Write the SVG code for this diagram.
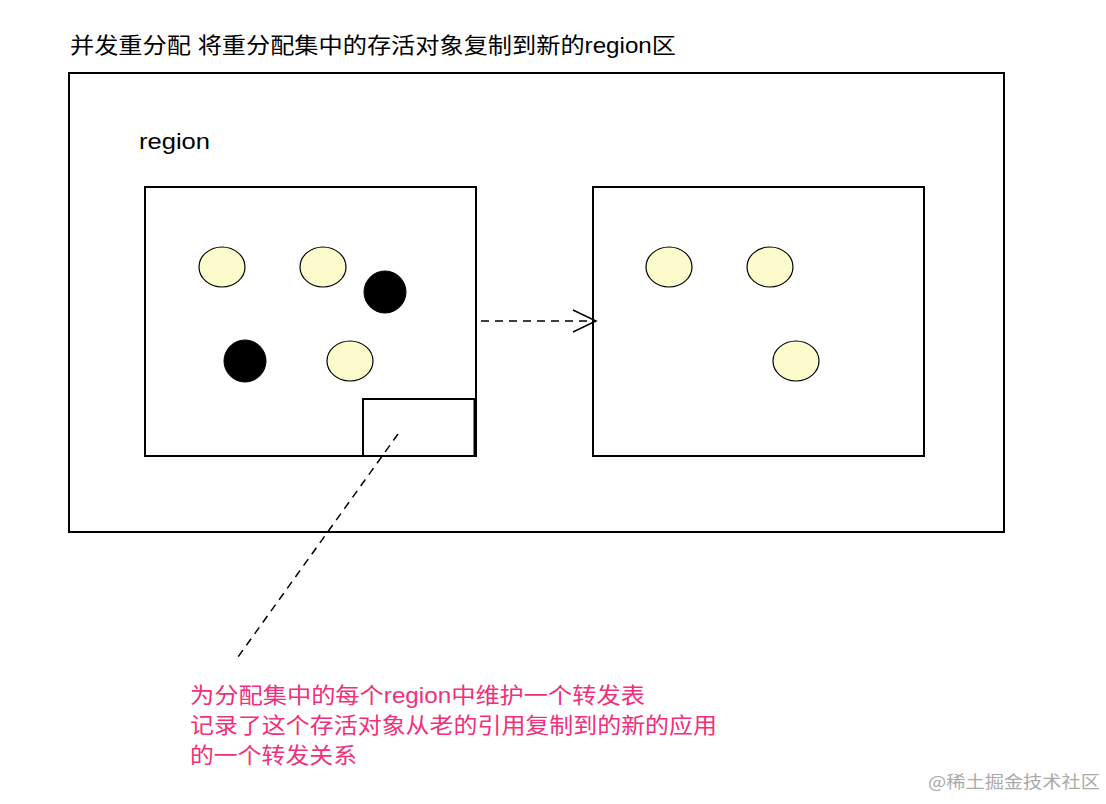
<svg xmlns="http://www.w3.org/2000/svg" width="1106" height="804" viewBox="0 0 1106 804">
<defs>
<style>
.t{font-family:"Liberation Sans","Noto Sans CJK SC",sans-serif;font-size:22px;fill:#000}
.red{font-family:"Liberation Sans","Noto Sans CJK SC",sans-serif;font-size:22px;fill:#f0307a}
.box{fill:#fff;stroke:#000;stroke-width:2}
.obj{fill:#fbfbcb;stroke:#000;stroke-width:1.2}
.dead{fill:#000;stroke:#000;stroke-width:1}
.conn{fill:none;stroke:#000;stroke-width:1.5;stroke-dasharray:8 6}
</style>
<marker id="open" markerWidth="28" markerHeight="28" refX="24" refY="12" orient="auto" markerUnits="userSpaceOnUse">
<path d="M1,1 L24,12 L1,23" fill="none" stroke="#000" stroke-width="1.5"/>
</marker>
</defs>
<rect width="1106" height="804" fill="#fff"/>
<text class="t" x="70" y="53" textLength="606" lengthAdjust="spacingAndGlyphs">并发重分配 将重分配集中的存活对象复制到新的region区</text>
<g id="heap"><rect class="box" x="69" y="73" width="935" height="459"/></g>
<text class="t" x="139" y="149" textLength="71" lengthAdjust="spacingAndGlyphs">region</text>
<g id="region-old">
<rect class="box" x="145" y="187" width="331" height="269"/>
<ellipse class="obj" cx="222" cy="267" rx="23" ry="20"/>
<ellipse class="obj" cx="323" cy="267" rx="23" ry="20"/>
<circle class="dead" cx="385" cy="292" r="21"/>
<circle class="dead" cx="245" cy="361" r="21"/>
<ellipse class="obj" cx="350" cy="361" rx="23" ry="20"/>
</g>
<g id="forward-table"><rect x="363" y="399" width="112" height="57" fill="#fff" stroke="#000" stroke-width="2"/><line x1="475" y1="399" x2="475" y2="457" stroke="#000" stroke-width="3"/></g>
<g id="region-new">
<rect class="box" x="593" y="187" width="331" height="269"/>
<ellipse class="obj" cx="669" cy="267" rx="23" ry="20"/>
<ellipse class="obj" cx="770" cy="267" rx="23" ry="20"/>
<ellipse class="obj" cx="796" cy="361" rx="23" ry="20"/>
</g>
<g id="connectors">
<line class="conn" x1="481" y1="321" x2="596" y2="321" marker-end="url(#open)"/>
<line class="conn" x1="398" y1="434" x2="238" y2="657"/>
</g>
<g id="note">
<text class="red" x="190" y="703" textLength="455" lengthAdjust="spacingAndGlyphs">为分配集中的每个region中维护一个转发表</text>
<text class="red" x="190" y="733" textLength="527" lengthAdjust="spacingAndGlyphs">记录了这个存活对象从老的引用复制到的新的应用</text>
<text class="red" x="190" y="763" textLength="167" lengthAdjust="spacingAndGlyphs">的一个转发关系</text>
</g>
<text x="928" y="788" font-family="'Noto Sans CJK SC',sans-serif" font-size="17" fill="#aaa" textLength="172" lengthAdjust="spacingAndGlyphs">@稀土掘金技术社区</text>
</svg>
